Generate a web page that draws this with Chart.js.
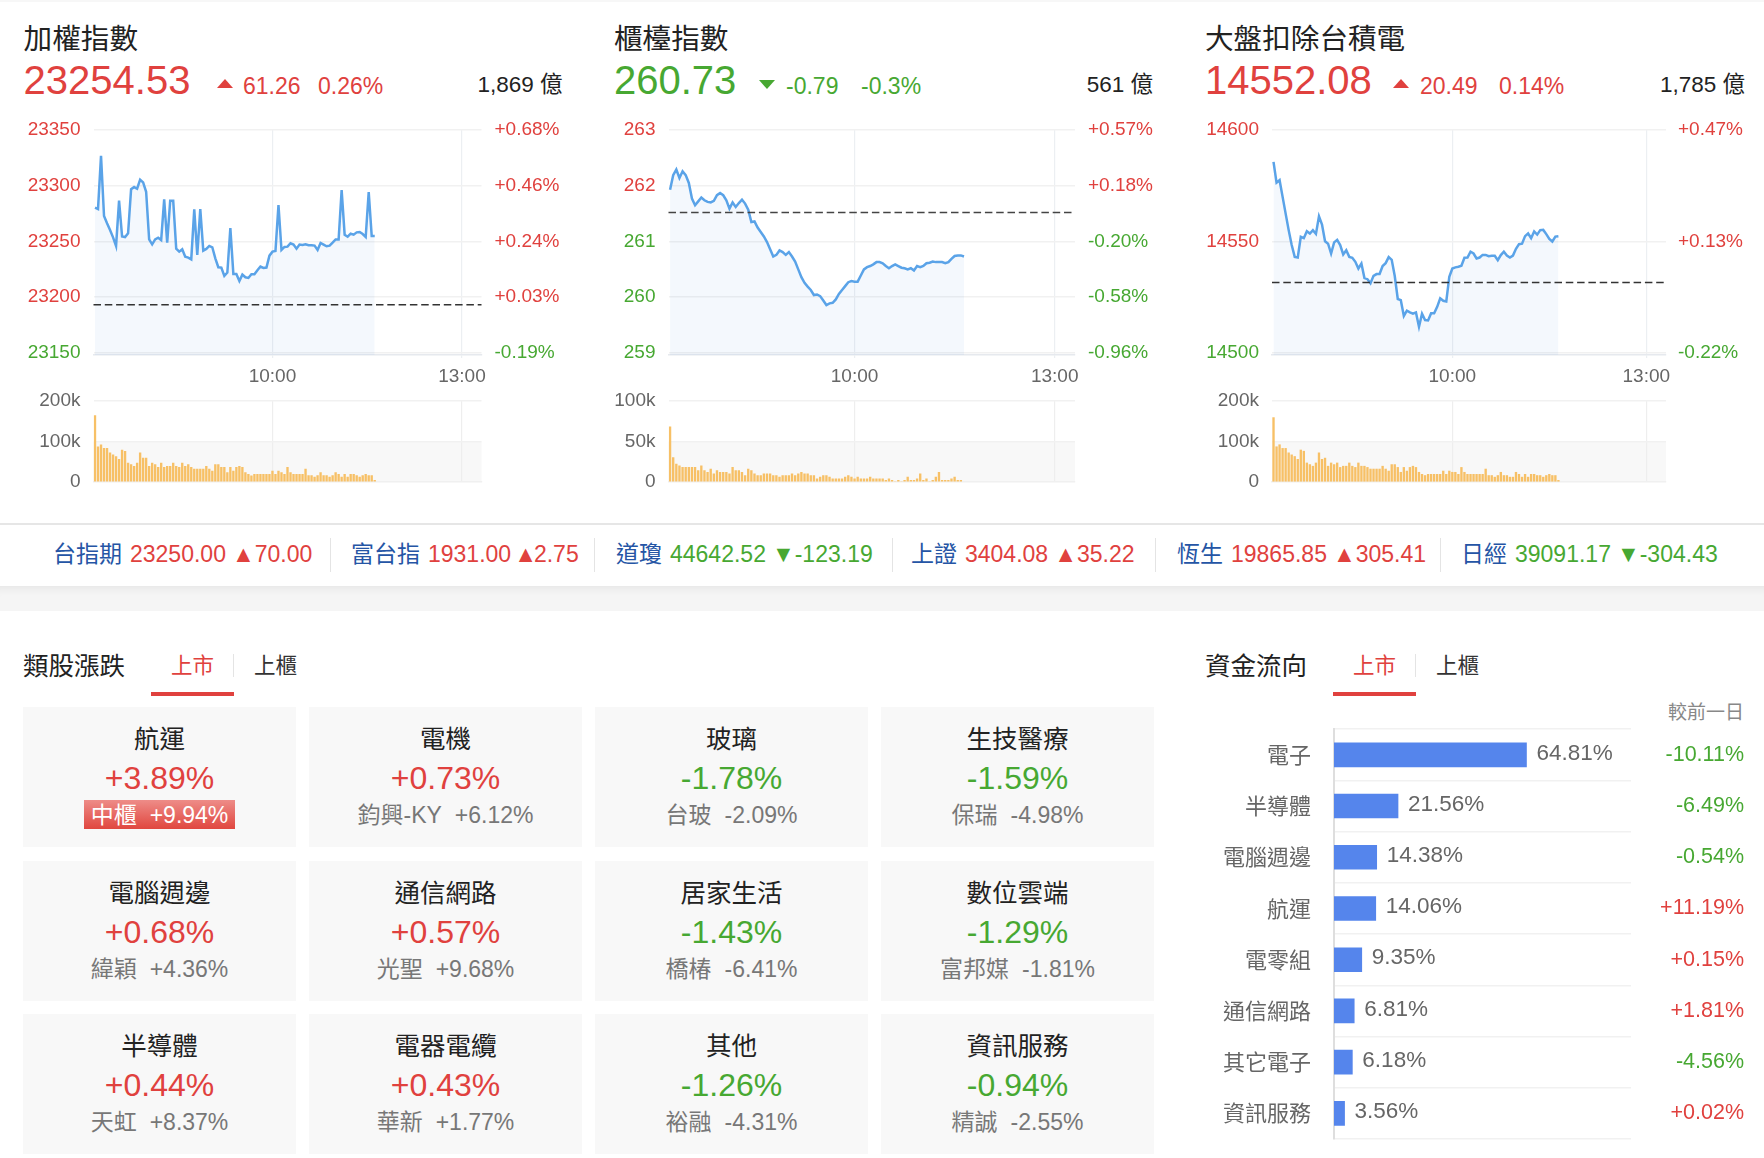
<!DOCTYPE html>
<html lang="zh-Hant">
<head>
<meta charset="utf-8">
<title>大盤總覽</title>
<script src="https://cdn.jsdelivr.net/npm/chart.js@4"></script>
<style>
  html, body { margin: 0; padding: 0; background: #fff; }
  body { position: relative; width: 1764px; height: 1158px; overflow: hidden; font-family: 'Liberation Sans', 'Noto Sans CJK TC', sans-serif; }
  .t { position: absolute; white-space: nowrap; line-height: 1; transform: translateY(-50%); }
  .box { position: absolute; }
  canvas { position: absolute; display: block; }
</style>
</head>
<body>
<script>
// values
const indexTitles = ['加權指數', '櫃檯指數', '大盤扣除台積電'];
const indexValues = ['23254.53', '260.73', '14552.08'];
const indexChanges = ['61.26', '-0.79', '20.49'];
const indexPercents = ['0.26%', '-0.3%', '0.14%'];
const indexTurnover = ['1,869 億', '561 億', '1,785 億'];
const prevCloses = [23193.27, 261.52, 14531.59];

const taiexPriceTicks = [23150, 23200, 23250, 23300, 23350];
const taiexPctTicks = ['-0.19%', '+0.03%', '+0.24%', '+0.46%', '+0.68%'];
const otcPriceTicks = [259, 260, 261, 262, 263];
const otcPctTicks = ['-0.96%', '-0.58%', '-0.20%', '+0.18%', '+0.57%'];
const exTsmcPriceTicks = [14500, 14550, 14600];
const exTsmcPctTicks = ['-0.22%', '+0.13%', '+0.47%'];

const taiexVolumeTicks = [0, 100, 200];
const otcVolumeTicks = [0, 50, 100];
const exTsmcVolumeTicks = [0, 100, 200];

const taiexPrices = [23280.3, 23279.1, 23326.9, 23272.8, 23266.3, 23260.3, 23253.7, 23246.0, 23286.6, 23254.6, 23254.0, 23257.3, 23297.0, 23298.8, 23297.3, 23305.4, 23303.0, 23294.6, 23251.9, 23247.5, 23251.9, 23253.4, 23251.3, 23287.8, 23249.0, 23286.6, 23286.6, 23243.6, 23240.9, 23243.0, 23236.4, 23235.5, 23234.0, 23278.8, 23237.9, 23279.1, 23241.8, 23243.3, 23246.0, 23244.8, 23234.9, 23226.9, 23226.6, 23219.1, 23222.1, 23262.1, 23220.9, 23220.9, 23214.6, 23220.3, 23217.9, 23217.3, 23220.6, 23220.6, 23224.2, 23227.5, 23226.3, 23226.6, 23237.3, 23240.9, 23241.5, 23282.7, 23242.4, 23245.1, 23245.4, 23248.4, 23247.2, 23243.6, 23247.2, 23246.9, 23247.5, 23246.6, 23246.6, 23246.3, 23242.4, 23248.7, 23247.2, 23245.7, 23246.3, 23249.0, 23251.9, 23251.9, 23296.1, 23256.1, 23254.3, 23257.0, 23256.1, 23258.2, 23258.5, 23256.7, 23254.0, 23294.3, 23254.9, 23254.9];
const otcPrices = [261.93, 262.19, 262.29, 262.14, 262.26, 262.19, 262.05, 261.77, 261.65, 261.72, 261.79, 261.74, 261.71, 261.70, 261.73, 261.83, 261.87, 261.83, 261.74, 261.59, 261.70, 261.62, 261.69, 261.75, 261.68, 261.57, 261.35, 261.36, 261.25, 261.17, 261.09, 260.99, 260.86, 260.73, 260.76, 260.84, 260.81, 260.76, 260.81, 260.73, 260.64, 260.50, 260.36, 260.26, 260.19, 260.13, 260.04, 260.05, 260.02, 259.94, 259.86, 259.89, 259.90, 259.96, 260.06, 260.13, 260.20, 260.27, 260.29, 260.28, 260.28, 260.39, 260.50, 260.54, 260.56, 260.59, 260.63, 260.63, 260.61, 260.56, 260.52, 260.56, 260.59, 260.56, 260.53, 260.52, 260.50, 260.52, 260.48, 260.56, 260.54, 260.56, 260.61, 260.62, 260.64, 260.63, 260.63, 260.63, 260.61, 260.63, 260.69, 260.74, 260.75, 260.75, 260.73];
const exTsmcPrices = [14585.7, 14576.4, 14577.5, 14570.0, 14562.5, 14555.1, 14548.4, 14543.1, 14542.8, 14552.1, 14551.5, 14554.6, 14553.6, 14555.1, 14553.4, 14561.3, 14557.6, 14550.1, 14549.0, 14544.6, 14549.6, 14550.7, 14548.4, 14544.2, 14546.1, 14543.1, 14542.7, 14540.9, 14537.9, 14540.1, 14533.6, 14533.1, 14531.3, 14534.6, 14535.4, 14535.4, 14539.0, 14540.3, 14543.0, 14541.8, 14534.5, 14524.2, 14523.7, 14516.6, 14519.0, 14518.2, 14517.6, 14518.2, 14511.8, 14517.6, 14514.8, 14514.6, 14517.8, 14517.8, 14520.7, 14524.5, 14523.4, 14523.1, 14534.2, 14537.9, 14538.4, 14538.7, 14539.1, 14542.7, 14542.8, 14545.4, 14544.6, 14542.4, 14542.8, 14544.0, 14544.0, 14543.4, 14543.6, 14543.6, 14541.6, 14543.9, 14545.4, 14543.7, 14542.8, 14543.7, 14546.7, 14548.8, 14549.0, 14552.4, 14553.6, 14551.5, 14554.5, 14553.1, 14555.1, 14555.2, 14553.3, 14551.2, 14550.0, 14552.2, 14552.4];

const taiexVolumes = [164, 87, 92, 83, 83, 72, 67, 63, 56, 79, 76, 47, 43, 39, 47, 72, 59, 59, 39, 47, 43, 36, 47, 36, 39, 39, 47, 39, 36, 47, 39, 43, 36, 32, 32, 32, 32, 39, 32, 27, 43, 43, 36, 36, 23, 36, 27, 36, 39, 36, 23, 19, 15, 19, 19, 19, 19, 19, 19, 27, 19, 27, 23, 19, 36, 23, 19, 19, 19, 19, 32, 16, 16, 12, 16, 23, 16, 16, 12, 16, 23, 19, 12, 19, 12, 19, 19, 16, 12, 16, 19, 16, 16, 4];
const otcVolumes = [68, 30, 22, 20, 18, 18, 18, 18, 18, 14, 20, 14, 12, 16, 10, 14, 12, 12, 12, 10, 18, 14, 14, 12, 8, 16, 14, 10, 8, 8, 10, 10, 10, 8, 8, 6, 8, 8, 8, 10, 8, 10, 12, 10, 10, 8, 8, 4, 6, 8, 8, 6, 4, 4, 4, 4, 6, 8, 6, 4, 6, 4, 4, 4, 6, 4, 4, 4, 4, 2, 4, 2, 0, 2, 0, 2, 6, 2, 2, 4, 10, 2, 4, 0, 2, 6, 12, 2, 2, 2, 4, 6, 2, 2];
const exTsmcVolumes = [159, 87, 92, 83, 83, 72, 67, 63, 56, 79, 76, 47, 43, 39, 47, 72, 56, 59, 39, 47, 43, 47, 36, 39, 39, 47, 39, 36, 47, 39, 39, 36, 32, 32, 32, 32, 39, 32, 27, 43, 43, 36, 24, 36, 27, 36, 39, 36, 24, 19, 16, 19, 19, 19, 19, 19, 27, 19, 27, 24, 24, 19, 36, 24, 19, 19, 19, 19, 19, 19, 32, 16, 16, 12, 16, 24, 16, 16, 12, 12, 24, 19, 12, 19, 12, 19, 19, 16, 16, 12, 16, 19, 16, 16, 4];

const tickerNames = ['台指期', '富台指', '道瓊', '上證', '恆生', '日經'];
const tickerValues = ['23250.00', '1931.00', '44642.52', '3404.08', '19865.85', '39091.17'];
const tickerMarks = ['▲', '▲', '▼', '▲', '▲', '▼'];
const tickerMoves = ['70.00', '2.75', '-123.19', '35.22', '305.41', '-304.43'];

const sectorNames = ['航運', '電機', '玻璃', '生技醫療', '電腦週邊', '通信網路', '居家生活', '數位雲端', '半導體', '電器電纜', '其他', '資訊服務'];
const sectorChanges = ['+3.89%', '+0.73%', '-1.78%', '-1.59%', '+0.68%', '+0.57%', '-1.43%', '-1.29%', '+0.44%', '+0.43%', '-1.26%', '-0.94%'];
const sectorLeaders = ['中櫃', '鈞興-KY', '台玻', '保瑞', '緯穎', '光聖', '橋椿', '富邦媒', '天虹', '華新', '裕融', '精誠'];
const leaderChanges = ['+9.94%', '+6.12%', '-2.09%', '-4.98%', '+4.36%', '+9.68%', '-6.41%', '-1.81%', '+8.37%', '+1.77%', '-4.31%', '-2.55%'];

const flowNames = ['電子', '半導體', '電腦週邊', '航運', '電零組', '通信網路', '其它電子', '資訊服務'];
const flowShares = [64.81, 21.56, 14.38, 14.06, 9.35, 6.81, 6.18, 3.56];
const flowDeltas = ['-10.11%', '-6.49%', '-0.54%', '+11.19%', '+0.15%', '+1.81%', '-4.56%', '+0.02%'];

const FONT = "'Liberation Sans', 'Noto Sans CJK TC', sans-serif";
const RED = '#e0413e';
const GREEN = '#47a832';
const BLUE = '#2555a5';
const GRID = '#f1f1f1';
const AXIS_GRAY = '#666';

Chart.defaults.font.family = FONT;
Chart.defaults.animation = false;

function colorOf(s) { return String(s).startsWith('-') ? GREEN : RED; }

function text(str, x, cy, size, color, align) {
  const el = document.createElement('div');
  el.className = 't';
  el.textContent = str;
  el.style.top = cy + 'px';
  el.style.fontSize = size + 'px';
  el.style.color = color;
  if (align === 'right') el.style.right = (1764 - x) + 'px';
  else if (align === 'center') { el.style.left = x + 'px'; el.style.transform = 'translate(-50%,-50%)'; }
  else el.style.left = x + 'px';
  document.body.appendChild(el);
  return el;
}

function box(x, y, w, h, bg) {
  const el = document.createElement('div');
  el.className = 'box';
  el.style.cssText = `left:${x}px;top:${y}px;width:${w}px;height:${h}px;background:${bg}`;
  document.body.appendChild(el);
  return el;
}

function makeCanvas(x, y, w, h) {
  const c = document.createElement('canvas');
  c.width = w; c.height = h;
  c.style.cssText = `left:${x}px;top:${y}px;width:${w}px;height:${h}px`;
  document.body.appendChild(c);
  return c;
}

// dashed previous close across the whole plot
const prevClosePlugin = {
  id: 'prevClose',
  afterDatasetsDraw(chart, args, opts) {
    const { ctx, chartArea, scales } = chart;
    const y = scales.y.getPixelForValue(opts.value);
    ctx.save();
    ctx.strokeStyle = opts.color;
    ctx.lineWidth = 1.5;
    ctx.setLineDash([7.5, 3.8]);
    ctx.beginPath();
    ctx.moveTo(chartArea.left, y);
    ctx.lineTo(chartArea.right, y);
    ctx.stroke();
    ctx.restore();
  },
};

// grey band behind the lower half of the volume chart
const volumeBandPlugin = {
  id: 'volumeBand',
  beforeDraw(chart, args, opts) {
    const { ctx, chartArea, scales } = chart;
    const y = scales.y.getPixelForValue(opts.value);
    ctx.save();
    ctx.fillStyle = '#f8f8f8';
    ctx.fillRect(chartArea.left, y, chartArea.right - chartArea.left, chartArea.bottom - y);
    ctx.restore();
  },
};

// percentage written after each fund flow bar
const barValuePlugin = {
  id: 'barValue',
  afterDatasetsDraw(chart) {
    const { ctx } = chart;
    ctx.save();
    ctx.font = '22.5px ' + FONT;
    ctx.fillStyle = AXIS_GRAY;
    ctx.textBaseline = 'middle';
    chart.getDatasetMeta(0).data.forEach((bar, i) => {
      ctx.fillText(flowShares[i].toFixed(2) + '%', bar.x + 10, bar.y - 1.5);
    });
    ctx.restore();
  },
};

function slotLabels(count, marks) {
  const labels = new Array(count).fill('');
  marks.forEach(([i, s]) => { labels[i] = s; });
  return labels;
}

// tick gap comes from a transparent tick mark, ticks.padding would also push the plot inwards
function gapGrid(gap, extra) {
  return { drawTicks: true, tickLength: gap, tickColor: 'transparent', ...extra };
}

function drawPanel(p) {
  const i = p.index;
  const prev = prevCloses[i];
  const tickList = p.priceTicks;
  const pad = (tickList[tickList.length - 1] - tickList[0]) * 0.009;
  const labels = slotLabels(p.slots, p.marks);

  new Chart(makeCanvas(p.canvasX, 111, p.canvasW, 280), {
    type: 'line',
    data: {
      labels,
      datasets: [{
        data: p.prices,
        borderColor: '#5aa3e8',
        borderWidth: 2.5,
        backgroundColor: 'rgba(70,140,220,0.06)',
        fill: 'start',
        pointRadius: 0,
        tension: 0,
      }],
    },
    plugins: [prevClosePlugin],
    options: {
      responsive: false,
      layout: { padding: { top: 19, left: 0, right: 0, bottom: 0 } },
      plugins: { legend: { display: false }, tooltip: { enabled: false }, prevClose: { value: prev, color: p.dashColor } },
      scales: {
        x: {
          type: 'category',
          offset: true,
          grid: { offset: false, color: '#eceff2', lineWidth: 1.2, drawTicks: true, tickLength: 3 },
          border: { display: true, color: '#e6e9ee', width: 1.5 },
          afterBuildTicks: s => { s.ticks = s.ticks.filter(t => labels[t.value]); },
          ticks: { autoSkip: false, maxRotation: 0, padding: 7, color: AXIS_GRAY, font: { size: 19 } },
          afterFit: s => { s.height = 36; },
        },
        y: {
          position: 'left',
          min: tickList[0] - pad,
          max: tickList[tickList.length - 1],
          afterBuildTicks: s => { s.ticks = tickList.map(v => ({ value: v })); },
          afterFit: s => { s.width = p.plotL - p.canvasX; },
          grid: gapGrid(13, { color: GRID, lineWidth: 1.5 }),
          border: { display: false },
          ticks: { padding: 0, font: { size: 19 }, callback: v => String(v), color: c => (c.tick.value > prev ? RED : GREEN) },
        },
        y2: {
          position: 'right',
          min: tickList[0] - pad,
          max: tickList[tickList.length - 1],
          afterBuildTicks: s => { s.ticks = tickList.map(v => ({ value: v })); },
          afterFit: s => { s.width = p.canvasX + p.canvasW - p.plotR; },
          grid: gapGrid(p.pctGap, { display: false }),
          border: { display: false },
          ticks: {
            padding: 0,
            font: { size: 19 },
            callback: (v, idx) => p.pctTicks[idx],
            color: c => (c.tick.value > prev ? RED : GREEN),
          },
        },
      },
    },
  });

  new Chart(makeCanvas(p.canvasX, 386, p.canvasW, 110), {
    type: 'bar',
    data: {
      labels,
      datasets: [{ data: p.volumes, backgroundColor: '#f7c066', barThickness: 1.7 }],
    },
    plugins: [volumeBandPlugin],
    options: {
      responsive: false,
      layout: { padding: { top: 15, right: p.canvasX + p.canvasW - p.plotR, bottom: 0 } },
      plugins: { legend: { display: false }, tooltip: { enabled: false }, volumeBand: { value: p.volumeTicks[1] } },
      scales: {
        x: {
          type: 'category',
          offset: true,
          grid: { offset: false, color: '#eeeeee', lineWidth: 1.2, drawTicks: false },
          border: { display: true, color: '#f0f0f0', width: 1.5 },
          afterBuildTicks: s => { s.ticks = s.ticks.filter(t => labels[t.value]); },
          ticks: { display: false, autoSkip: false },
          afterFit: s => { s.height = 14; },
        },
        y: {
          min: 0,
          max: p.volumeTicks[2],
          afterBuildTicks: s => { s.ticks = p.volumeTicks.map(v => ({ value: v })); },
          afterFit: s => { s.width = p.plotL - p.canvasX; },
          grid: gapGrid(13, { color: c => (c.tick.value === 0 ? 'transparent' : GRID), lineWidth: 1.5 }),
          border: { display: false },
          ticks: { padding: 0, font: { size: 19 }, color: AXIS_GRAY, callback: v => (v ? v + 'k' : '0') },
        },
      },
    },
  });
}

function drawHeaders(headerX, triX, changeX, pctX, amountRight) {
  indexTitles.forEach((title, i) => {
    const up = !indexChanges[i].startsWith('-');
    const c = up ? RED : GREEN;
    text(title, headerX[i], 39, 28.6, '#222');
    text(indexValues[i], headerX[i], 80, 40, c);
    const tri = box(triX[i], up ? 79 : 80, 0, 0, 'transparent');
    tri.style.borderLeft = '8.5px solid transparent';
    tri.style.borderRight = '8.5px solid transparent';
    tri.style[up ? 'borderBottom' : 'borderTop'] = '9px solid ' + c;
    text(indexChanges[i], changeX[i], 85.5, 23, c);
    text(indexPercents[i], pctX[i], 85.5, 23, c);
    text(indexTurnover[i], amountRight[i], 84.5, 22.5, '#222', 'right');
  });
}

function drawTicker() {
  box(0, 0, 1764, 2, '#f7f7f7');
  box(0, 523, 1764, 1.5, '#e6e6e6');
  const strip = box(0, 586, 1764, 25, '#f5f5f5');
  strip.style.boxShadow = 'inset 0 10px 10px -8px rgba(0,0,0,0.07)';
  const startX = [53, 351, 616, 911, 1177, 1461];
  const sepX = [330, 594, 892, 1155, 1440];
  tickerNames.forEach((name, i) => {
    const row = text('', startX[i], 554, 23, BLUE);
    const c = tickerMarks[i] === '▲' ? RED : GREEN;
    row.innerHTML = `<span>${name}</span><span style="margin-left:8px;color:${c}">${tickerValues[i]}<span style="margin-left:${i === 1 ? 3 : 6}px;margin-right:${i === 1 ? -3 : 0}px">${tickerMarks[i]}</span>${tickerMoves[i]}</span>`;
  });
  sepX.forEach(x => box(x, 538, 1, 34, '#e4e4e4'));
}

function drawSectionHead(title, x, tabOnX, underlineX, sepX, tabOffX) {
  text(title, x, 667, 25.5, '#222');
  text('上市', tabOnX, 667, 21.5, RED);
  text('上櫃', tabOffX, 667, 21.5, '#333');
  box(underlineX, 692, 83, 4, RED);
  box(sepX, 654, 1, 23, '#e4e4e4');
}

function drawSectors() {
  const colX = [23, 309, 595, 881];
  const rowY = [707, 861, 1014];
  sectorNames.forEach((name, i) => {
    const x = colX[i % 4];
    const y = rowY[Math.floor(i / 4)];
    box(x, y, 273, 140, '#f8f8f8');
    const cx = x + 136.5;
    text(name, cx, y + 33, 25.5, '#222', 'center');
    text(sectorChanges[i], cx, y + 71, 32, colorOf(sectorChanges[i]), 'center');
    if (i === 0) {
      box(84, y + 93, 151, 29, 'linear-gradient(#ee8c88,#e0473f)');
    }
    const sub = text('', cx, y + 108, 23, i === 0 ? '#fff' : '#777', 'center');
    sub.innerHTML = `<span>${sectorLeaders[i]}</span><span style="margin-left:13px">${leaderChanges[i]}</span>`;
  });
}

function drawFlow() {
  text('較前一日', 1744, 712, 19, '#888', 'right');
  new Chart(makeCanvas(1180, 716, 584, 440), {
    type: 'bar',
    data: {
      labels: flowNames,
      datasets: [{ data: flowShares, backgroundColor: '#5585ec', barThickness: 24, yAxisID: 'y', xAxisID: 'x' }],
    },
    plugins: [barValuePlugin],
    options: {
      responsive: false,
      indexAxis: 'y',
      layout: { padding: { top: 13, bottom: 17, left: 0, right: 20 } },
      plugins: { legend: { display: false }, tooltip: { enabled: false } },
      scales: {
        x: { min: 0, max: 100, display: false },
        y: {
          position: 'left',
          grid: gapGrid(23, { color: '#f1f1f1', lineWidth: 1.5 }),
          border: { display: true, color: '#dedede', width: 2 },
          afterFit: s => { s.width = 154; },
          ticks: { padding: 0, labelOffset: 2, color: AXIS_GRAY, font: { size: 22 } },
        },
        yDelta: {
          type: 'category',
          position: 'right',
          labels: flowDeltas,
          offset: true,
          grid: gapGrid(0, { display: false }),
          border: { display: false },
          afterFit: s => { s.width = 113; },
          ticks: {
            padding: 0,
            crossAlign: 'far',
            font: { size: 21.5 },
            color: c => colorOf(flowDeltas[c.index]),
          },
        },
      },
    },
  });
}

drawHeaders([23.6, 614, 1205], [217, 759, 1393], [243, 786, 1420], [318, 861, 1499], [562.5, 1153, 1745]);

drawPanel({
  index: 0, canvasX: 0, canvasW: 590, plotL: 93.5, plotR: 481.5, pctGap: 13, dashColor: '#333',
  slots: 129, marks: [[59, '10:00'], [122, '13:00']],
  prices: taiexPrices, volumes: taiexVolumes, priceTicks: taiexPriceTicks, pctTicks: taiexPctTicks, volumeTicks: taiexVolumeTicks,
});
drawPanel({
  index: 1, canvasX: 590, canvasW: 590, plotL: 668.5, plotR: 1075, pctGap: 13, dashColor: '#444',
  slots: 130, marks: [[59, '10:00'], [123, '13:00']],
  prices: otcPrices, volumes: otcVolumes, priceTicks: otcPriceTicks, pctTicks: otcPctTicks, volumeTicks: otcVolumeTicks,
});
drawPanel({
  index: 2, canvasX: 1180, canvasW: 584, plotL: 1272, plotR: 1666, pctGap: 12, dashColor: '#333',
  slots: 130, marks: [[59, '10:00'], [123, '13:00']],
  prices: exTsmcPrices, volumes: exTsmcVolumes, priceTicks: exTsmcPriceTicks, pctTicks: exTsmcPctTicks, volumeTicks: exTsmcVolumeTicks,
});

drawTicker();
drawSectionHead('類股漲跌', 23, 171, 151, 233, 254);
drawSectionHead('資金流向', 1205, 1353, 1333, 1415, 1436);
drawSectors();
drawFlow();
</script>
</body>
</html>
